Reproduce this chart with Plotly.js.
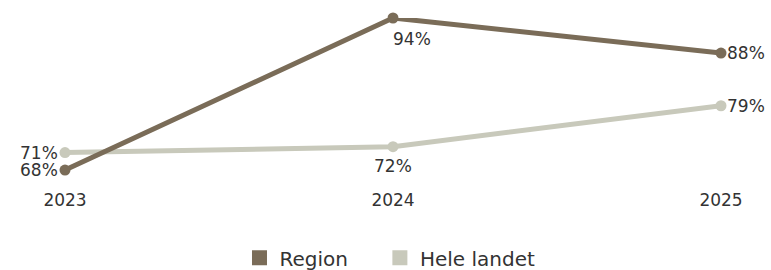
<!DOCTYPE html>
<html>
<head>
<meta charset="utf-8">
<script src="https://cdn.plot.ly/plotly-3.0.1.min.js"></script>
<style>html,body{margin:0;padding:0;background:#fff;}#chart{width:771px;height:270px;}</style>
</head>
<body>
<div id="chart"></div>
<script>
const years = [2023, 2024, 2025];
const yearLabels = ['2023', '2024', '2025'];
const regionValues = [68, 94, 88];
const landetValues = [71, 72, 79];
const seriesNames = ['Region', 'Hele landet'];

const colRegion = '#7a6c58';
const colLandet = '#c8c9bb';
const font = 'DejaVu Sans, Verdana, sans-serif';
const txtCol = '#333';

function pct(v) { return v + '%'; }

const traces = [
  {
    x: years, y: landetValues, type: 'scatter', mode: 'lines+markers',
    line: {color: colLandet, width: 5}, marker: {color: colLandet, size: 11},
    cliponaxis: false, showlegend: false, hoverinfo: 'skip'
  },
  {
    x: years, y: regionValues, type: 'scatter', mode: 'lines+markers',
    line: {color: colRegion, width: 5}, marker: {color: colRegion, size: 11},
    cliponaxis: false, showlegend: false, hoverinfo: 'skip'
  },
  {
    x: [null], y: [null], type: 'scatter', mode: 'markers', name: seriesNames[0],
    marker: {color: colRegion, symbol: 'square', size: 15}, showlegend: true, legend: 'legend'
  },
  {
    x: [null], y: [null], type: 'scatter', mode: 'markers', name: seriesNames[1],
    marker: {color: colLandet, symbol: 'square', size: 15}, showlegend: true, legend: 'legend2'
  }
];

// label placement per point: [xanchor, xshift, yshift]
const regionPlace = [['right', -6, 0], ['left', -1, -21], ['left', 5, 0]];
const landetPlace = [['right', -6, 0], ['center', 0, -19], ['left', 5, 0]];

const annotations = [];
function addLabels(vals, place) {
  vals.forEach((v, i) => {
    annotations.push({
      x: years[i], y: v, xref: 'x', yref: 'y', text: pct(v), showarrow: false,
      xanchor: place[i][0], yanchor: 'middle', xshift: place[i][1], yshift: place[i][2],
      font: {family: font, size: 17, color: txtCol}, borderpad: 0
    });
  });
}
addLabels(regionValues, regionPlace);
addLabels(landetValues, landetPlace);

const legendFont = {family: font, size: 20, color: txtCol};

const layout = {
  width: 771, height: 270,
  margin: {l: 65, r: 50, t: 18, b: 82, autoexpand: false},
  paper_bgcolor: '#fff', plot_bgcolor: '#fff',
  font: {family: font, color: txtCol},
  xaxis: {
    range: [2023, 2025], tickvals: years, ticktext: yearLabels,
    showgrid: false, zeroline: false, showline: false, ticks: '',
    tickfont: {family: font, size: 17, color: txtCol}, fixedrange: true, automargin: false
  },
  yaxis: {
    range: [64.94, 94], showgrid: false, zeroline: false, showline: false,
    showticklabels: false, ticks: '', fixedrange: true, automargin: false
  },
  annotations: annotations,
  legend: {
    orientation: 'h', x: 0.266, xanchor: 'left', y: -0.41, yanchor: 'middle',
    font: legendFont, bgcolor: 'rgba(0,0,0,0)'
  },
  legend2: {
    orientation: 'h', x: 0.480, xanchor: 'left', y: -0.41, yanchor: 'middle',
    font: legendFont, bgcolor: 'rgba(0,0,0,0)'
  },
  showlegend: true
};

Plotly.newPlot('chart', traces, layout, {displayModeBar: false, staticPlot: true});
</script>
</body>
</html>
